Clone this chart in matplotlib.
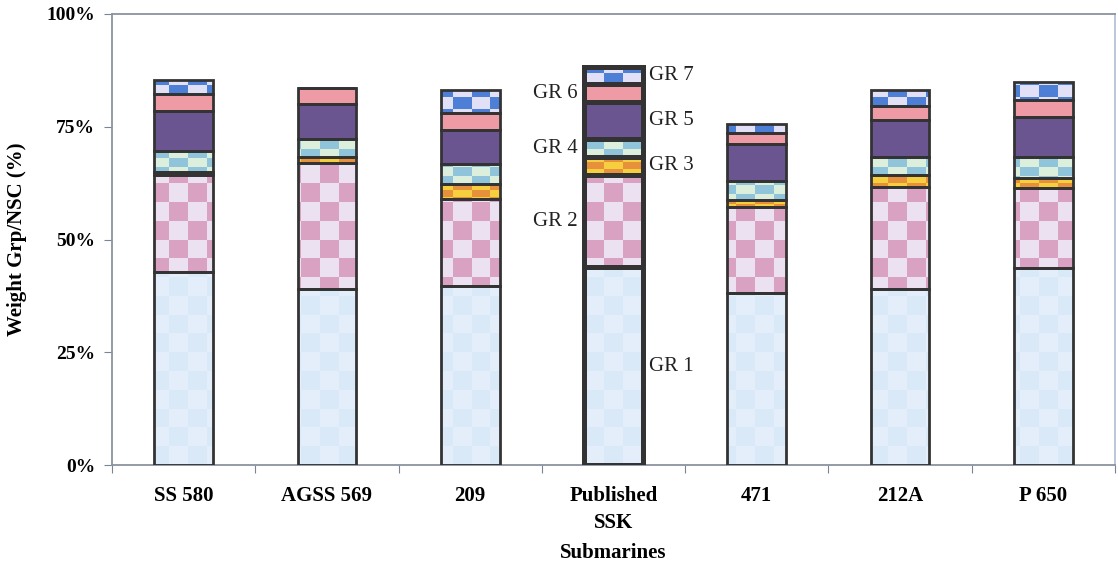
import matplotlib
matplotlib.use('Agg')
import matplotlib.pyplot as plt
import numpy as np
from matplotlib.path import Path

plt.rcParams['font.family'] = ['Liberation Serif', 'DejaVu Serif']

# weight group share of NSC (%) for each submarine, bottom to top
subs = ['SS 580', 'AGSS 569', '209', 'Published\nSSK', '471', '212A', 'P 650']
gr1 = [42.7, 39.1, 39.7, 43.8, 38.2, 39.1, 43.6]
gr2 = [21.5, 27.9, 19.3, 20.6, 19.0, 22.6, 17.8]
gr3 = [0.8, 1.4, 3.3, 3.8, 1.6, 2.7, 2.2]
gr4 = [4.7, 3.9, 4.4, 4.1, 4.1, 3.9, 4.8]
gr5 = [8.7, 7.8, 7.6, 8.1, 8.3, 8.1, 8.7]
gr6 = [3.9, 3.5, 3.7, 4.0, 2.5, 3.1, 3.9]
gr7 = [3.1, 0.0, 5.2, 3.9, 1.9, 3.7, 4.0]
groups = ['GR 1', 'GR 2', 'GR 3', 'GR 4', 'GR 5', 'GR 6', 'GR 7']

# fill per group: (colour a, colour b, cell width px, cell height px); b=None -> solid
fills = [
    ('#dae9f8', '#e4edfa', 19, 19),
    ('#d9a2c3', '#ebe1f1', 19, 19),
    ('#f6cf3e', '#e8913c', 19, 7),
    ('#8fc4db', '#dcefdc', 19, 9),
    ('#6b5590', None, 0, 0),
    ('#ef9ba6', None, 0, 0),
    ('#4d7fd6', '#e2e0f6', 19, 12),
]

data = np.array([gr1, gr2, gr3, gr4, gr5, gr6, gr7])
x = np.arange(len(subs))
width = 0.41
ax_w_px, ax_h_px = 1003, 451

fig = plt.figure(figsize=(11.18, 5.71), dpi=100)
ax = fig.add_axes([112 / 1118, 1 - 465 / 571, 1003 / 1118, 451 / 571])

bottoms = np.zeros(len(subs))
for g in range(len(groups)):
    vals = data[g]
    a, b, cw, ch = fills[g]
    if b is None:
        ax.bar(x, vals, width, bottom=bottoms, color=a, zorder=2, linewidth=0)
    else:
        ncol = int(round(ax_w_px / cw))
        nrow = int(round(ax_h_px / ch))
        cc, rr = np.meshgrid(np.arange(ncol), np.arange(nrow))
        mask = (cc + rr) % 2 == 0
        img = np.empty((nrow, ncol, 3))
        img[mask] = matplotlib.colors.to_rgb(a)
        img[~mask] = matplotlib.colors.to_rgb(b)
        im = ax.imshow(img, extent=(-0.5, 6.5, 0, 100), origin='lower',
                       aspect='auto', interpolation='nearest', zorder=2)
        rects = []
        for xi, v, b0 in zip(x, vals, bottoms):
            if v <= 0:
                continue
            x0, x1 = xi - width / 2, xi + width / 2
            rects.append(Path([(x0, b0), (x1, b0), (x1, b0 + v), (x0, b0 + v), (x0, b0)],
                              [Path.MOVETO, Path.LINETO, Path.LINETO, Path.LINETO, Path.CLOSEPOLY]))
        im.set_clip_path(Path.make_compound_path(*rects), ax.transData)
    # outlines, heavier on the published design
    lws = [3.6 if i == 3 else 2.0 for i in range(len(subs))]
    ax.bar(x, vals, width, bottom=bottoms, fill=False, edgecolor='#333333',
           linewidth=lws, zorder=3)
    # group labels beside the published bar
    mid = bottoms[3] + vals[3] / 2
    if g % 2 == 0:
        ax.text(x[3] + width / 2 + 0.045, mid, groups[g], ha='left', va='center',
                fontsize=15, color='#222222')
    else:
        ax.text(x[3] - width / 2 - 0.045, mid, groups[g], ha='right', va='center',
                fontsize=15, color='#222222')
    bottoms = bottoms + vals

ax.set_xlim(-0.5, 6.5)
ax.set_ylim(0, 100)

ax.set_yticks([0, 25, 50, 75, 100])
ax.set_yticklabels(['0%', '25%', '50%', '75%', '100%'], fontsize=14, fontweight='bold')
ax.set_xticks(np.arange(-0.5, 7, 1))
ax.set_xticklabels([])
ax.set_xticks(x, minor=True)
ax.set_xticklabels(subs, minor=True, fontsize=15, fontweight='bold', linespacing=1.5)
ax.tick_params(axis='x', which='minor', length=0, pad=15)
ax.tick_params(axis='x', which='major', length=6, color='#7a8494', direction='out')
ax.tick_params(axis='y', length=6, color='#7a8494', direction='out', pad=6)

for s in ax.spines.values():
    s.set_color('#8a93a0')
    s.set_linewidth(1.3)
ax.spines['right'].set_color('#b8c4d4')

ax.set_ylabel('Weight Grp/NSC (%)', fontsize=15, fontweight='bold', labelpad=14)
ax.set_xlabel('Submarines', fontsize=15, fontweight='bold', labelpad=7)

fig.savefig('out.png', dpi=100)
